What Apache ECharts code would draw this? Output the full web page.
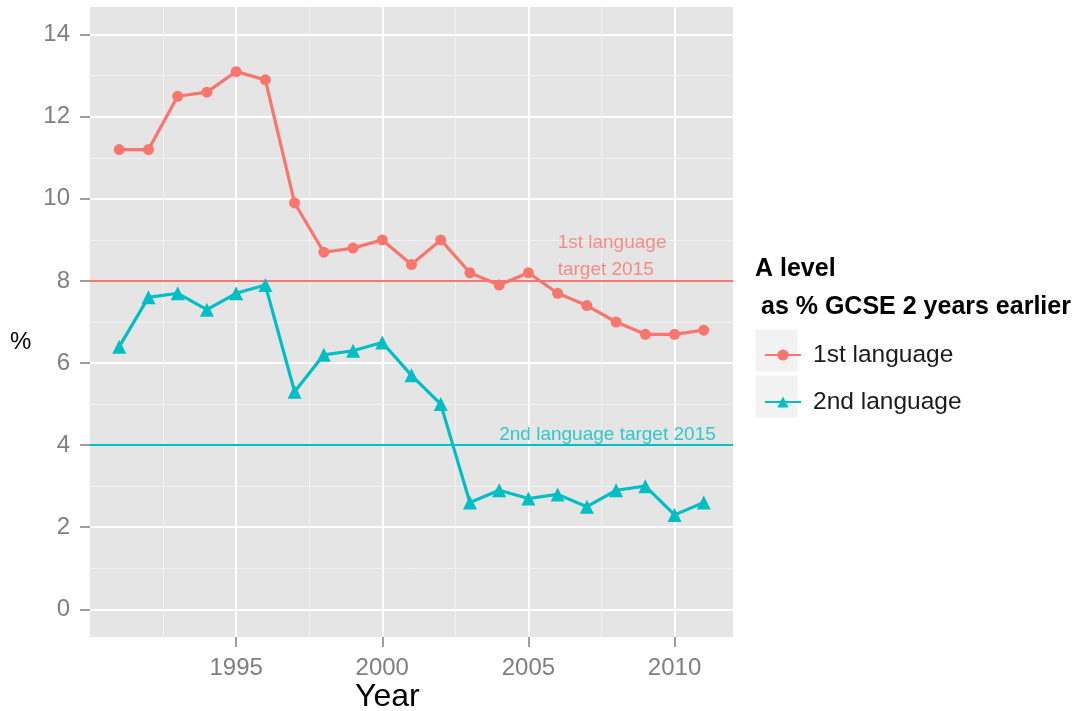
<!DOCTYPE html>
<html><head><meta charset="utf-8">
<script src="https://cdn.jsdelivr.net/npm/echarts@6/dist/echarts.min.js"></script>
<style>html,body{margin:0;padding:0;background:#fff}#c{width:1078px;height:711px}</style>
</head><body><div id="c"></div>
<script>
// ---- data ----
const years = [1991,1992,1993,1994,1995,1996,1997,1998,1999,2000,2001,2002,2003,2004,2005,2006,2007,2008,2009,2010,2011];
const firstLanguage  = [11.2,11.2,12.5,12.6,13.1,12.9,9.9,8.7,8.8,9.0,8.4,9.0,8.2,7.9,8.2,7.7,7.4,7.0,6.7,6.7,6.8];
const secondLanguage = [6.4,7.6,7.7,7.3,7.7,7.9,5.3,6.2,6.3,6.5,5.7,5.0,2.6,2.9,2.7,2.8,2.5,2.9,3.0,2.3,2.6];
const seriesNames = ['1st language','2nd language'];
const targetValues = [8, 4];
const annotationTexts = ['1st language\ntarget 2015', '2nd language target 2015'];
const annotationX = [2006, 2004];
const annotationY = [8.6, 4.25];
const yTicks = [0,2,4,6,8,10,12,14];
const xTicks = [1995,2000,2005,2010];
const yMinor = [1,3,5,7,9,11,13];
const xMinor = [1992.5,1997.5,2002.5,2007.5];

const RED = '#F8766D', TEAL = '#00BFC4';
const FONT = "'Liberation Sans', Arial, sans-serif";
const chart = echarts.init(document.getElementById('c'));

const gridLines = []
  .concat(yMinor.map(v => ({yAxis: v, lineStyle: {color: '#F2F2F2', width: 1, type: 'solid'}})))
  .concat(xMinor.map(v => ({xAxis: v, lineStyle: {color: '#F2F2F2', width: 1, type: 'solid'}})))
  .concat(yTicks.map(v => ({yAxis: v, lineStyle: {color: '#FFFFFF', width: 2, type: 'solid'}})))
  .concat(xTicks.map(v => ({xAxis: v, lineStyle: {color: '#FFFFFF', width: 2, type: 'solid'}})));

chart.setOption({
  animation: false,
  backgroundColor: '#FFFFFF',
  textStyle: {fontFamily: FONT},
  grid: {left: 90, top: 7, right: 345, bottom: 74, show: true, backgroundColor: '#E5E5E5', borderWidth: 0},
  xAxis: {
    type: 'value', min: 1990, max: 2012,
    axisLine: {show: true, onZero: false, lineStyle: {color: '#E5E5E5', width: 0, opacity: 0}},
    axisTick: {show: true, customValues: xTicks, length: 10, lineStyle: {color: '#7F7F7F', width: 1.5}},
    axisLabel: {customValues: xTicks, color: '#7F7F7F', fontSize: 24, margin: 19, fontFamily: FONT, formatter: v => String(v)},
    splitLine: {show: false}
  },
  yAxis: {
    type: 'value', min: -0.675, max: 14.675,
    axisLine: {show: false, onZero: false},
    axisTick: {show: true, customValues: yTicks, length: 10, lineStyle: {color: '#7F7F7F', width: 1.5}},
    axisLabel: {customValues: yTicks, color: '#7F7F7F', fontSize: 24, margin: 20, fontFamily: FONT, formatter: v => String(v)},
    splitLine: {show: false}
  },
  legend: {
    data: seriesNames, orient: 'vertical', left: 759, top: 335,
    itemWidth: 36, itemHeight: 14, itemGap: 17,
    textStyle: {fontSize: 24.5, lineHeight: 30, color: '#1A1A1A', fontFamily: FONT, padding: [0, 0, 0, 7]}
  },
  graphic: [
    {type: 'rect', z: -1, shape: {x: 755, y: 329, width: 43, height: 43}, style: {fill: '#F2F2F2', stroke: '#FFFFFF', lineWidth: 1}},
    {type: 'rect', z: -1, shape: {x: 755, y: 375, width: 43, height: 43}, style: {fill: '#F2F2F2', stroke: '#FFFFFF', lineWidth: 1}},
    {type: 'text', left: 755, top: 257, style: {text: 'A level', font: "bold 25px " + FONT, fill: '#000'}},
    {type: 'text', left: 761, top: 295, style: {text: 'as % GCSE 2 years earlier', font: "bold 25px " + FONT, fill: '#000'}},
    {type: 'text', left: 10, top: 330, style: {text: '%', font: "24px " + FONT, fill: '#000'}},
    {type: 'text', left: 355, top: 681, style: {text: 'Year', font: "32px " + FONT, fill: '#000'}}
  ],
  series: [
    {
      type: 'line', data: [], z: 1, zlevel: 0, silent: true,
      markLine: {silent: true, z: 1, symbol: 'none', label: {show: false}, animation: false, data: gridLines}
    },
    {
      name: seriesNames[0], type: 'line', z: 3, zlevel: 1,
      data: years.map((y, i) => [y, firstLanguage[i]]),
      symbol: 'circle', symbolSize: 11,
      lineStyle: {color: RED, width: 3.2}, itemStyle: {color: RED},
      markLine: {silent: true, z: 2, symbol: 'none', label: {show: false}, lineStyle: {color: RED, width: 2, type: 'solid'}, data: [{yAxis: targetValues[0]}]}
    },
    {
      name: seriesNames[1], type: 'line', z: 3, zlevel: 1,
      data: years.map((y, i) => [y, secondLanguage[i]]),
      symbol: 'triangle', symbolSize: 14,
      lineStyle: {color: TEAL, width: 3.2}, itemStyle: {color: TEAL},
      markLine: {silent: true, z: 2, symbol: 'none', label: {show: false}, lineStyle: {color: TEAL, width: 2, type: 'solid'}, data: [{yAxis: targetValues[1]}]}
    },
    {
      type: 'scatter', z: 4, zlevel: 1, silent: true, symbolSize: 0,
      data: annotationTexts.map((t, i) => ({value: [annotationX[i], annotationY[i]], name: t, label: {color: i === 0 ? RED : TEAL}})),
      label: {show: true, position: 'right', distance: 0, formatter: '{b}', fontSize: 19, lineHeight: 27, align: 'left', fontFamily: FONT}
    }
  ]
});
</script></body></html>
